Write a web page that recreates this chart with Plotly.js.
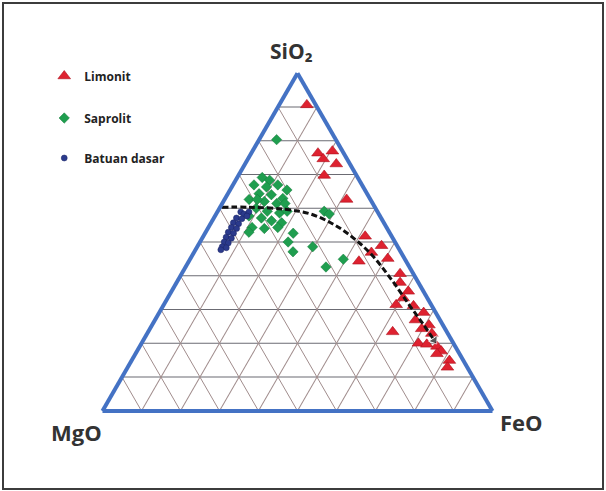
<!DOCTYPE html>
<html>
<head>
<meta charset="utf-8">
<script src="https://cdn.plot.ly/plotly-3.0.1.min.js"></script>
<style>
  html, body { margin: 0; padding: 0; background: #fff; }
  #chart { width: 606px; height: 491px; }
</style>
</head>
<body>
<div id="chart"></div>
<script>
// Composition values (%): SiO2 (a), MgO (b), FeO (c)
const limonitSiO2 = [90.6, 76.3, 74.6, 76.9, 73.1, 69.7, 62.6, 51.7, 48.9, 46.9, 44.3, 45.1, 40.6, 38.0, 35.4, 31.4, 31.1, 29.1, 26.9, 25.4, 23.4, 22.9, 20.0, 19.7, 19.1, 17.7, 16.9, 14.9, 12.9, 33.4, 24.3];
const limonitMgO  = [2.3, 6.6, 6.1, 2.6, 3.5, 8.3, 6.1, 6.8, 4.0, 7.6, 12.1, 4.3, 3.4, 4.7, 3.9, 9.0, 4.7, 3.1, 6.3, 3.6, 13.9, 4.1, 9.0, 7.0, 4.7, 4.3, 5.8, 3.6, 5.1, 6.2, 6.0];
const limonitFeO  = [7.1, 17.1, 19.3, 20.5, 23.4, 22.0, 31.3, 41.5, 47.1, 45.5, 43.6, 50.6, 56.0, 57.3, 60.7, 59.6, 64.2, 67.8, 66.8, 71.0, 62.7, 73.0, 71.0, 73.3, 76.2, 78.0, 77.3, 81.5, 82.0, 60.4, 69.7];

const saprolitSiO2 = [80.3, 69.1, 68.3, 66.9, 66.3, 66.9, 65.4, 64.3, 64.0, 62.9, 62.6, 62.0, 61.4, 61.4, 60.0, 59.1, 58.6, 57.7, 57.1, 56.3, 55.7, 54.3, 54.0, 54.3, 52.6, 52.9, 50.0, 47.1, 48.6, 42.6, 59.1, 58.3, 44.9, 62.6, 59.1];
const saprolitMgO  = [15.2, 24.5, 23.0, 27.7, 24.8, 21.6, 20.0, 27.7, 24.7, 22.3, 31.1, 27.5, 24.6, 22.5, 30.6, 28.2, 25.3, 33.6, 30.7, 28.5, 26.2, 34.5, 31.5, 27.9, 24.8, 36.0, 27.4, 27.6, 21.8, 21.4, 13.6, 12.7, 15.8, 29.0, 23.1];
const saprolitFeO  = [4.5, 6.4, 8.7, 5.4, 8.9, 11.5, 14.6, 8.0, 11.3, 14.8, 6.3, 10.5, 14.0, 16.1, 9.4, 12.7, 16.1, 8.7, 12.2, 15.2, 18.1, 11.2, 14.5, 17.8, 22.6, 11.1, 22.6, 25.3, 29.6, 36.0, 27.3, 29.0, 39.3, 8.4, 17.8];

const batuanSiO2 = [58.9, 58.3, 57.1, 56.9, 55.7, 55.4, 54.3, 54.0, 52.9, 52.6, 51.4, 51.1, 50.0, 49.7, 48.6, 48.3, 47.7, 58.9, 57.7];
const batuanMgO  = [35.1, 34.6, 37.1, 35.8, 38.6, 37.4, 39.8, 38.6, 41.3, 40.1, 42.6, 41.4, 43.8, 42.9, 45.0, 44.1, 45.8, 33.0, 34.1];
const batuanFeO  = [6.0, 7.1, 5.8, 7.3, 5.7, 7.2, 5.9, 7.4, 5.8, 7.3, 6.0, 7.5, 6.2, 7.4, 6.4, 7.6, 6.5, 8.1, 8.2];

// Weathering trend (dashed arrow)
const trendSiO2 = [60.3, 60.3, 59.7, 58.3, 55.1, 51.1, 46.0, 39.1, 31.7, 25.4, 20.9];
const trendMgO  = [39.2, 32.3, 23.4, 17.5, 13.0, 10.0, 7.8, 6.5, 5.7, 4.9, 4.5];
const trendFeO  = [0.5, 7.4, 16.9, 24.2, 31.9, 38.9, 46.2, 54.4, 62.6, 69.7, 74.6];

const seriesNames = ['Limonit', 'Saprolit', 'Batuan dasar'];
const vertexLabels = ['SiO₂', 'MgO', 'FeO'];

const traces = [
  {
    type: 'scatterternary', mode: 'markers', name: seriesNames[0], legend: 'legend',
    a: limonitSiO2, b: limonitMgO, c: limonitFeO,
    marker: { symbol: 'triangle-up', size: 11, color: '#de2230', line: { width: 0.6, color: '#b0101c' } }
  },
  {
    type: 'scatterternary', mode: 'markers', name: seriesNames[1], legend: 'legend2',
    a: saprolitSiO2, b: saprolitMgO, c: saprolitFeO,
    marker: { symbol: 'diamond', size: 8, color: '#1f9e4f', line: { width: 0.5, color: '#147a3a' } }
  },
  {
    type: 'scatterternary', mode: 'markers', name: seriesNames[2], legend: 'legend3',
    a: batuanSiO2, b: batuanMgO, c: batuanFeO,
    marker: { symbol: 'circle', size: 6, color: '#2b3a8c', line: { width: 0.5, color: '#1c2766' } }
  },
  {
    type: 'scatterternary', mode: 'lines+markers', showlegend: false, hoverinfo: 'skip',
    a: trendSiO2, b: trendMgO, c: trendFeO,
    line: { color: '#111', width: 3, dash: '6px,3px', shape: 'spline' },
    marker: { symbol: 'triangle-up', color: '#111',
              size: trendSiO2.map((v, i) => i === trendSiO2.length - 1 ? 9 : 0),
              angle: 146 }
  }
];

const gridA = '#6b6b73';
const gridBC = '#a08c8c';
const edge = '#4472c4';

function axis(gc) {
  return {
    title: { text: '' },
    tickmode: 'linear', tick0: 0, dtick: 10,
    ticks: '', showticklabels: false,
    showline: true, linecolor: edge, linewidth: 4,
    showgrid: true, gridcolor: gc, gridwidth: 1
  };
}

const legendBase = {
  bgcolor: 'rgba(0,0,0,0)', borderwidth: 0,
  font: { family: 'Open Sans, sans-serif', size: 12, color: '#222', weight: 'bold' },
  xanchor: 'left', yanchor: 'middle', itemclick: false, itemdoubleclick: false
};

const labelFont = (s) => ({ size: s, color: '#333', family: 'Open Sans, sans-serif' });

const layout = {
  width: 606, height: 491,
  margin: { l: 0, r: 0, t: 0, b: 0 },
  paper_bgcolor: '#ffffff',
  font: { family: 'Open Sans, sans-serif' },
  ternary: {
    sum: 100,
    domain: { x: [0.1691, 0.8127], y: [0.1071, 0.9071] },
    bgcolor: '#ffffff',
    aaxis: axis(gridA),
    baxis: axis(gridBC),
    caxis: axis(gridBC)
  },
  legend:  Object.assign({}, legendBase, { x: 0.073, y: 1 - 76 / 491 }),
  legend2: Object.assign({}, legendBase, { x: 0.073, y: 1 - 118 / 491 }),
  legend3: Object.assign({}, legendBase, { x: 0.073, y: 1 - 158 / 491 }),
  annotations: [
    { text: '<b>' + vertexLabels[0] + '</b>', xref: 'paper', yref: 'paper', x: 291 / 606, y: 1 - 51 / 491,
      xanchor: 'center', yanchor: 'middle', showarrow: false, font: labelFont(21) },
    { text: '<b>' + vertexLabels[1] + '</b>', xref: 'paper', yref: 'paper', x: 76 / 606, y: 1 - 432 / 491,
      xanchor: 'center', yanchor: 'middle', showarrow: false, font: labelFont(22) },
    { text: '<b>' + vertexLabels[2] + '</b>', xref: 'paper', yref: 'paper', x: 521 / 606, y: 1 - 422 / 491,
      xanchor: 'center', yanchor: 'middle', showarrow: false, font: labelFont(22) }
  ],
  shapes: [
    { type: 'rect', xref: 'paper', yref: 'paper', x0: 3 / 606, x1: 603 / 606, y0: 1 - 489 / 491, y1: 1 - 3 / 491,
      line: { color: '#3c3c3c', width: 2 }, fillcolor: 'rgba(0,0,0,0)' }
  ],
  showlegend: true
};

Plotly.newPlot('chart', traces, layout, { displayModeBar: false, staticPlot: true });
</script>
</body>
</html>
